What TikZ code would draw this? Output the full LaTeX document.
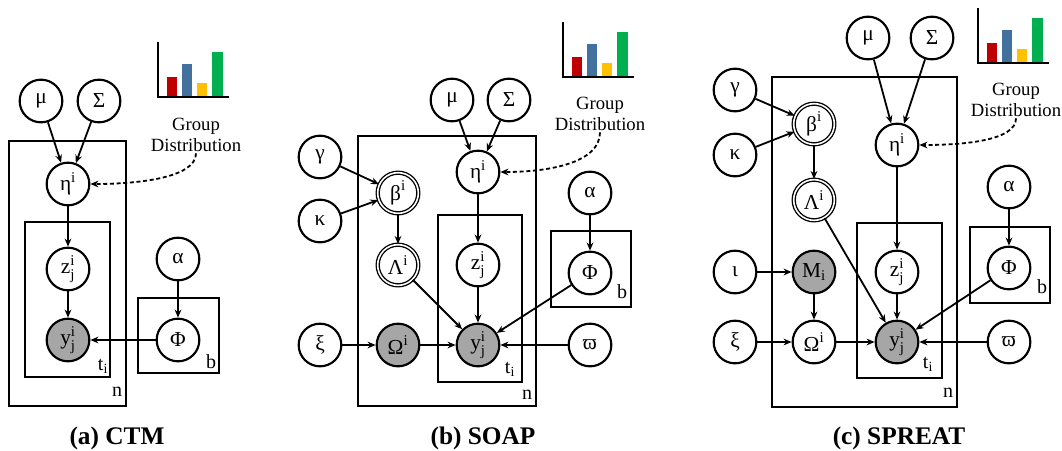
\documentclass[tikz,border=0pt]{standalone}
\usepackage{fontspec}
\setmainfont{Liberation Serif}
\usepackage{amsmath}
\usetikzlibrary{arrows.meta}
\newcommand\vsup[2]{$\text{#1}^{\text{#2}}$}
\newcommand\vsub[2]{$\text{#1}_{\text{#2}}$}
\newcommand\vsupsub[3]{$\text{#1}^{\text{#2}}_{\text{#3}}$}
\definecolor{barred}{HTML}{C00000}
\definecolor{barblue}{HTML}{41719C}
\definecolor{baryellow}{HTML}{FFC000}
\definecolor{bargreen}{HTML}{00B050}
\tikzset{
 var/.style={circle, draw, line width=1.6pt, minimum size=32pt, inner sep=0pt, fill=white, font=\fontsize{16}{18}\selectfont},
 obs/.style={var, fill=gray!70},
 det/.style={var, line width=1pt, double, double distance=1.2pt, minimum size=30.5pt},
 plate/.style={draw, line width=1.7pt},
 edge/.style={-{Stealth[length=6pt,width=5pt]}, line width=1.35pt},
 dashedge/.style={edge, dash pattern=on 3pt off 2pt},
 lbl/.style={font=\fontsize{15}{17}\selectfont, inner sep=0pt},
 gdist/.style={font=\fontsize{14}{15.75}\selectfont, align=center, inner sep=1pt},
 paneltitle/.style={font=\fontsize{19}{22}\selectfont\bfseries, inner sep=0pt},
}
\newcommand\groupchart[1]{%
  \begin{scope}[shift={#1}]
    \fill[barred] (9,0) rectangle (19,-20);
    \fill[barblue] (24,0) rectangle (34,-33);
    \fill[baryellow] (39,0) rectangle (49,-14);
    \fill[bargreen] (54,0) rectangle (65,-45);
    \draw[line width=1.3pt] (0,-55) -- (0,0) -- (71,0);
  \end{scope}}
\begin{document}
\begin{tikzpicture}[x=0.75pt,y=-0.75pt]
\useasboundingbox (0,0) rectangle (1062,450);
\fill[white] (0,0) rectangle (1062,450);

% ---------------- (a) CTM ----------------
\draw[plate] (9,141) rectangle (126,406);
\draw[plate] (25,222) rectangle (110,377);
\draw[plate] (138,298) rectangle (219,373);
\node[var] (mua) at (41,101) {μ};
\node[var] (siga) at (99,101) {Σ};
\node[var] (etaa) at (68,184) {\vsup{η}{i}};
\node[var] (za) at (68,269) {\vsupsub{z}{i}{j}};
\node[obs] (ya) at (68,340) {\vsupsub{y}{i}{j}};
\node[var] (alphaa) at (178,259) {α};
\node[var] (phia) at (178,340) {Φ};
\node[lbl] (ta) at (103,366) {\vsub{t}{i}};
\node[lbl] (na) at (117,392) {n};
\node[lbl] (ba) at (211,362) {b};
\groupchart{(158,97)}
\node[gdist] (gda) at (196,135) {Group\\Distribution};
\draw[edge] (mua) -- (etaa);
\draw[edge] (siga) -- (etaa);
\draw[edge] (etaa) -- (za);
\draw[edge] (za) -- (ya);
\draw[edge] (alphaa) -- (phia);
\draw[edge] (phia) -- (ya);
\draw[dashedge] (gda.south) .. controls +(0,25) and +(45,0) .. (etaa.east);
\node[paneltitle] (titlea) at (117,438) {(a) CTM};

% ---------------- (b) SOAP ----------------
\draw[plate] (358,136) rectangle (536,406);
\draw[plate] (438,215) rectangle (522,382);
\draw[plate] (551,231) rectangle (631,307);
\node[var] (mub) at (452,100) {μ};
\node[var] (sigb) at (509,100) {Σ};
\node[var] (gammab) at (320,157) {γ};
\node[var] (kappab) at (320,221) {κ};
\node[det] (betab) at (398,193) {\vsup{β}{i}};
\node[var] (etab) at (478,172) {\vsup{η}{i}};
\node[var] (alphab) at (590,193) {α};
\node[det] (lambdab) at (398,265) {\vsup{Λ}{i}};
\node[var] (zb) at (478,265) {\vsupsub{z}{i}{j}};
\node[var] (phib) at (590,273) {Φ};
\node[var] (xib) at (320,345) {ξ};
\node[obs] (omegab) at (398,345) {\vsup{Ω}{i}};
\node[obs] (yb) at (478,345) {\vsupsub{y}{i}{j}};
\node[var] (varpib) at (590,345) {ϖ};
\node[lbl] (tb) at (510,369) {\vsub{t}{i}};
\node[lbl] (nb) at (527,395) {n};
\node[lbl] (bb) at (622,292) {b};
\groupchart{(563,77)}
\node[gdist] (gdb) at (600,114) {Group\\Distribution};
\draw[edge] (mub) -- (etab);
\draw[edge] (sigb) -- (etab);
\draw[edge] (etab) -- (zb);
\draw[edge] (zb) -- (yb);
\draw[edge] (gammab) -- (betab);
\draw[edge] (kappab) -- (betab);
\draw[edge] (betab) -- (lambdab);
\draw[edge] (lambdab) -- (yb);
\draw[edge] (xib) -- (omegab);
\draw[edge] (omegab) -- (yb);
\draw[edge] (alphab) -- (phib);
\draw[edge] (phib) -- (yb);
\draw[edge] (varpib) -- (yb);
\draw[dashedge] (gdb.south) .. controls +(0,30) and +(50,0) .. (etab.east);
\node[paneltitle] (titleb) at (483,438) {(b) SOAP};

% ---------------- (c) SPREAT ----------------
\draw[plate] (772,77) rectangle (957,407);
\draw[plate] (857,223) rectangle (942,378);
\draw[plate] (970,227) rectangle (1050,303);
\node[var] (muc) at (868,38) {μ};
\node[var] (sigc) at (932,38) {Σ};
\node[var] (gammac) at (735,90) {γ};
\node[var] (kappac) at (735,155) {κ};
\node[det] (betac) at (814,124) {\vsup{β}{i}};
\node[var] (etac) at (897,145) {\vsup{η}{i}};
\node[det] (lambdac) at (814,200) {\vsup{Λ}{i}};
\node[var] (alphac) at (1009,187) {α};
\node[var] (iotac) at (735,272) {ι};
\node[obs] (mc) at (814,272) {\vsub{M}{i}};
\node[var] (zc) at (897,272) {\vsupsub{z}{i}{j}};
\node[var] (phic) at (1009,268) {Φ};
\node[var] (xic) at (735,342) {ξ};
\node[var] (omegac) at (814,342) {\vsup{Ω}{i}};
\node[obs] (yc) at (897,342) {\vsupsub{y}{i}{j}};
\node[var] (varpic) at (1009,342) {ϖ};
\node[lbl] (tc) at (928,364) {\vsub{t}{i}};
\node[lbl] (nc) at (948,393) {n};
\node[lbl] (bc) at (1042,287) {b};
\groupchart{(978,63)}
\node[gdist] (gdc) at (1016,100) {Group\\Distribution};
\draw[edge] (muc) -- (etac);
\draw[edge] (sigc) -- (etac);
\draw[edge] (etac) -- (zc);
\draw[edge] (zc) -- (yc);
\draw[edge] (gammac) -- (betac);
\draw[edge] (kappac) -- (betac);
\draw[edge] (betac) -- (lambdac);
\draw[edge] (lambdac) -- (yc);
\draw[edge] (iotac) -- (mc);
\draw[edge] (mc) -- (omegac);
\draw[edge] (xic) -- (omegac);
\draw[edge] (omegac) -- (yc);
\draw[edge] (alphac) -- (phic);
\draw[edge] (phic) -- (yc);
\draw[edge] (varpic) -- (yc);
\draw[dashedge] (gdc.south) .. controls +(0,22) and +(45,0) .. (etac.east);
\node[paneltitle] (titlec) at (899,438) {(c) SPREAT};
\end{tikzpicture}
\end{document}
